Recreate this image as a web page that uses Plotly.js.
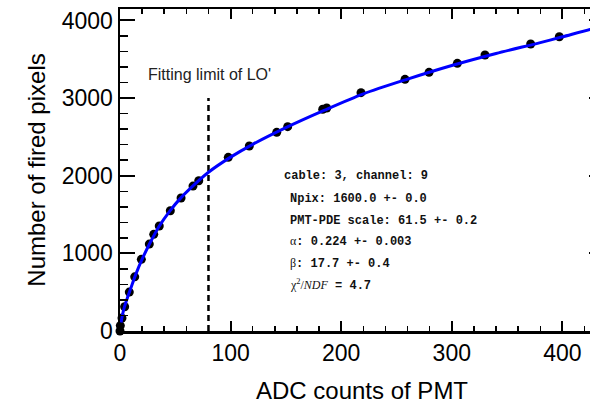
<!DOCTYPE html>
<html><head><meta charset="utf-8">
<script src="https://cdn.plot.ly/plotly-3.0.1.min.js"></script>
<style>html,body{margin:0;padding:0;overflow:hidden;background:#fff}</style>
</head><body><div id="chart" style="width:610px;height:404px"></div>
<script>
// measured data points
const adcCounts   = [0, 0.3, 1.8, 4.2, 8.4, 13.3, 19.3, 26.5, 30.5, 35.5, 45.5, 55.2, 66, 71.2, 97.9, 116.9, 141.7, 151.6, 183.3, 186.9, 217.9, 257.7, 279.4, 305, 330, 371.3, 397.2];
const firedPixels = [0, 70, 166, 312, 501, 698, 923, 1120, 1245, 1352, 1549, 1713, 1867, 1936, 2237, 2383, 2559, 2632, 2856, 2872, 3070, 3242, 3332, 3448, 3555, 3697, 3791];
// fit curve
const fitX = [1, 2, 4, 7, 10, 14, 20, 27, 35, 45, 55, 66, 80, 100, 120, 150, 185, 220, 260, 300, 340, 380, 400, 425, 437];
const fitY = [110, 190, 310, 440, 560, 720, 925, 1130, 1340, 1545, 1715, 1870, 2045, 2240, 2405, 2620, 2845, 3055, 3245, 3420, 3575, 3715, 3790, 3885, 3925];
// fitting limit marker
const limitX = [80, 80];
const limitY = [0, 3000];
const limitLabel = "Fitting limit of LO'";
const statsLines = [
  'cable: 3, channel: 9',
  'Npix: 1600.0 +- 0.0',
  'PMT-PDE scale: 61.5 +- 0.2',
  '<span style="font-family:Liberation Serif;font-weight:normal">α</span>: 0.224 +- 0.003',
  '<span style="font-family:Liberation Serif;font-weight:normal">β</span>: 17.7 +- 0.4',
  '<span style="font-family:Liberation Serif;font-weight:normal">χ<sup>2</sup>/<i>NDF</i></span> = 4.7'
];
const xTitle = 'ADC counts of PMT';
const yTitle = 'Number of fired pixels';

const statsPos = [[0.334,0.481],[0.347,0.409],[0.347,0.342],[0.347,0.277],[0.347,0.210],[0.347,0.143]];

const traces = [
  {x: limitX, y: limitY, mode: 'lines', line: {color: '#000', width: 2.5, dash: '6px,4px'}, hoverinfo: 'skip'},
  {x: adcCounts, y: firedPixels, mode: 'markers', marker: {color: '#000', size: 9}, cliponaxis: false},
  {x: fitX, y: fitY, mode: 'lines', line: {color: '#0000ff', width: 3, shape: 'spline', smoothing: 0.8}}
];

const annotations = statsLines.map((t, i) => ({
  xref: 'paper', yref: 'paper', x: statsPos[i][0], y: statsPos[i][1],
  xanchor: 'left', yanchor: 'middle', showarrow: false, text: t,
  font: {family: 'Liberation Mono', size: 12, color: '#111', weight: 'bold'}
}));
annotations.push({xref: 'x', yref: 'y', x: 23.5, y: 3298, xanchor: 'left', yanchor: 'middle',
  showarrow: false, text: limitLabel, font: {family: 'Liberation Sans', size: 16, color: '#222'}});

const axisCommon = {
  showgrid: false, zeroline: false, showline: true, linecolor: '#000', linewidth: 2.5,
  mirror: 'ticks', ticks: 'inside', tickcolor: '#000', tickwidth: 2,
  tickfont: {family: 'Liberation Sans', size: 23, color: '#000'}
};

const layout = {
  width: 610, height: 404,
  margin: {l: 120, r: 6, t: 9, b: 73},
  paper_bgcolor: '#fff', plot_bgcolor: '#fff',
  showlegend: false,
  xaxis: Object.assign({}, axisCommon, {
    range: [0, 437.6], dtick: 100, tick0: 0, ticklen: 10,
    minor: {dtick: 20, ticks: 'inside', ticklen: 5, tickwidth: 1.5, tickcolor: '#000'},
    title: {text: xTitle, font: {family: 'Liberation Sans', size: 24, color: '#000'}, standoff: 18}
  }),
  yaxis: Object.assign({}, axisCommon, {
    range: [0, 4148], dtick: 1000, tick0: 0, ticklen: 15,
    minor: {dtick: 200, ticks: 'inside', ticklen: 8, tickwidth: 1.5, tickcolor: '#000'},
    title: {text: yTitle, font: {family: 'Liberation Sans', size: 24, color: '#000'}, standoff: 10}
  }),
  annotations: annotations
};

Plotly.newPlot('chart', traces, layout, {displayModeBar: false, staticPlot: true});
</script></body></html>
